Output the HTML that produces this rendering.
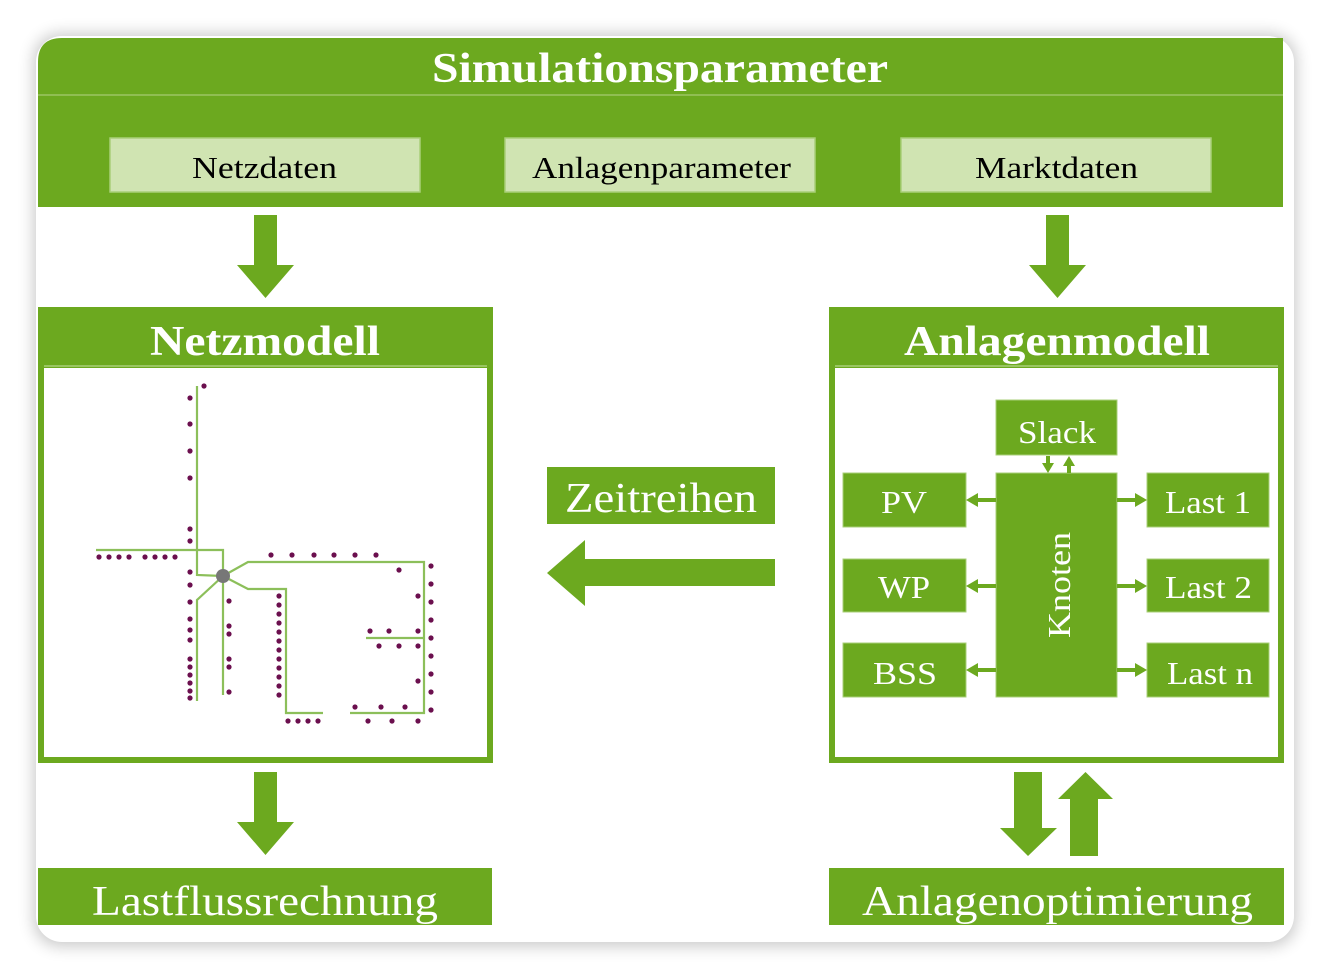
<!DOCTYPE html>
<html><head><meta charset="utf-8"><style>
html,body{margin:0;padding:0;background:#fff;}
svg{display:block;}
</style></head><body>
<svg width="1330" height="978" viewBox="0 0 1330 978" xmlns="http://www.w3.org/2000/svg" font-family="'Liberation Serif', serif">
<defs>
<filter id="sh" x="-5%" y="-5%" width="110%" height="110%"><feGaussianBlur stdDeviation="8"/></filter>
</defs>
<rect x="34" y="34" width="1262" height="912" rx="26" fill="#000" opacity="0.22" filter="url(#sh)"/>
<rect x="36" y="36" width="1258" height="906" rx="26" fill="#fff"/>
<path d="M38 207 V62 Q38 38 62 38 H1283 V207 Z" fill="#6ca91f"/>
<line x1="38" y1="95" x2="1283" y2="95" stroke="#9cc663" stroke-width="1.5"/>
<text x="432" y="82" textLength="456" lengthAdjust="spacingAndGlyphs" font-size="42" font-weight="bold" fill="#fff">Simulationsparameter</text>
<g fill="#d0e4b2" stroke="#a9cf79" stroke-width="1.5">
<rect x="110" y="138" width="310" height="54"/>
<rect x="505" y="138" width="310" height="54"/>
<rect x="901" y="138" width="310" height="54"/>
</g>
<g font-size="31" fill="#000" lengthAdjust="spacingAndGlyphs">
<text x="192" y="178" textLength="145" lengthAdjust="spacingAndGlyphs">Netzdaten</text>
<text x="532" y="178" textLength="259" lengthAdjust="spacingAndGlyphs">Anlagenparameter</text>
<text x="975" y="178" textLength="163" lengthAdjust="spacingAndGlyphs">Marktdaten</text>
</g>
<g fill="#6ca91f">
<path d="M254 215 H277 V265 H294 L265.5 298 L237 265 H254 Z"/>
<path d="M1046 215 H1069 V265 H1086 L1057.5 298 L1029 265 H1046 Z"/>
<path d="M254 772 H277 V822 H294 L265.5 855 L237 822 H254 Z"/>
<path d="M1014 772 H1042 V828 H1057 L1028 856 L1000 828 H1014 Z"/>
<path d="M1070 856 H1098 V799 H1113 L1085.5 772 L1058 799 H1070 Z"/>
<path d="M775 559 V586 H585 V606 L547 573 L585 540 V559 Z"/>
</g>
<rect x="38" y="307" width="455" height="456" fill="#6ca91f"/>
<rect x="44" y="368" width="443" height="389" fill="#fff"/>
<line x1="44" y1="366" x2="487" y2="366" stroke="#a9cf79" stroke-width="1.5"/>
<text x="150" y="355" textLength="230" lengthAdjust="spacingAndGlyphs" font-size="42" font-weight="bold" fill="#fff">Netzmodell</text>
<rect x="829" y="307" width="455" height="456" fill="#6ca91f"/>
<rect x="835" y="368" width="443" height="389" fill="#fff"/>
<line x1="835" y1="366" x2="1278" y2="366" stroke="#a9cf79" stroke-width="1.5"/>
<text x="904" y="355" textLength="306" lengthAdjust="spacingAndGlyphs" font-size="42" font-weight="bold" fill="#fff">Anlagenmodell</text>
<rect x="38" y="868" width="454" height="57" fill="#6ca91f"/>
<rect x="829" y="868" width="455" height="57" fill="#6ca91f"/>
<text x="92" y="915" textLength="346" lengthAdjust="spacingAndGlyphs" font-size="42" fill="#fff">Lastflussrechnung</text>
<text x="862" y="915" textLength="391" lengthAdjust="spacingAndGlyphs" font-size="42" fill="#fff">Anlagenoptimierung</text>
<rect x="547" y="467" width="228" height="57" fill="#6ca91f"/>
<text x="565" y="512" textLength="192" lengthAdjust="spacingAndGlyphs" font-size="42" fill="#fff">Zeitreihen</text>
<g fill="#6ca91f" stroke="#a9cf79" stroke-width="1">
<rect x="996" y="400" width="121" height="55"/>
<rect x="996" y="473" width="121" height="224"/>
<rect x="843" y="473" width="123" height="54"/>
<rect x="843" y="559" width="123" height="53"/>
<rect x="843" y="643" width="123" height="54"/>
<rect x="1147" y="473" width="122" height="54"/>
<rect x="1147" y="559" width="122" height="53"/>
<rect x="1147" y="643" width="122" height="54"/>
</g>
<g font-size="32" fill="#fff">
<text x="1018" y="443" textLength="78" lengthAdjust="spacingAndGlyphs">Slack</text>
<text x="881" y="513" textLength="46" lengthAdjust="spacingAndGlyphs">PV</text>
<text x="878" y="598" textLength="52" lengthAdjust="spacingAndGlyphs">WP</text>
<text x="873" y="684" textLength="64" lengthAdjust="spacingAndGlyphs">BSS</text>
<text x="1165" y="513" textLength="86" lengthAdjust="spacingAndGlyphs">Last 1</text>
<text x="1165" y="598" textLength="87" lengthAdjust="spacingAndGlyphs">Last 2</text>
<text x="1167" y="684" textLength="86" lengthAdjust="spacingAndGlyphs">Last n</text>
<text transform="translate(1070,638) rotate(-90)" textLength="106" lengthAdjust="spacingAndGlyphs">Knoten</text>
</g>
<g stroke="#6ca91f" stroke-width="4" fill="#6ca91f">
<line x1="996" y1="500" x2="975" y2="500"/><path d="M966 500 L978 493 L978 507 Z" stroke="none"/>
<line x1="996" y1="586" x2="975" y2="586"/><path d="M966 586 L978 579 L978 593 Z" stroke="none"/>
<line x1="996" y1="670" x2="975" y2="670"/><path d="M966 670 L978 663 L978 677 Z" stroke="none"/>
<line x1="1117" y1="500" x2="1138" y2="500"/><path d="M1147 500 L1135 493 L1135 507 Z" stroke="none"/>
<line x1="1117" y1="586" x2="1138" y2="586"/><path d="M1147 586 L1135 579 L1135 593 Z" stroke="none"/>
<line x1="1117" y1="670" x2="1138" y2="670"/><path d="M1147 670 L1135 663 L1135 677 Z" stroke="none"/>
<line x1="1048" y1="456" x2="1048" y2="464"/><path d="M1048 473 L1042 463 L1054 463 Z" stroke="none"/>
<line x1="1069" y1="473" x2="1069" y2="465"/><path d="M1069 456 L1063 466 L1075 466 Z" stroke="none"/>
</g>
<g stroke="#8cbf5a" stroke-width="2.2" fill="none">
<polyline points="197,386 197,575 223,576"/>
<polyline points="96,550 223,550 223,576"/>
<line x1="223" y1="576" x2="223" y2="695"/>
<polyline points="223,576 197,600 197,701"/>
<polyline points="223,576 248,562 424,562 424,713 350,713"/>
<polyline points="223,576 248,589 286,589 286,713 323,713"/>
<line x1="366" y1="638" x2="424" y2="638"/>
</g>
<circle cx="223" cy="576" r="7" fill="#777"/>
<g fill="#6b0f4e">
<circle cx="204" cy="386" r="2.6"/>
<circle cx="190" cy="398" r="2.6"/><circle cx="190" cy="424" r="2.6"/><circle cx="190" cy="451" r="2.6"/><circle cx="190" cy="478" r="2.6"/>
<circle cx="190" cy="529" r="2.6"/><circle cx="190" cy="541" r="2.6"/>
<circle cx="190" cy="572" r="2.6"/><circle cx="190" cy="585" r="2.6"/><circle cx="190" cy="602" r="2.6"/>
<circle cx="190" cy="619" r="2.6"/><circle cx="190" cy="630" r="2.6"/><circle cx="190" cy="640" r="2.6"/>
<circle cx="190" cy="659" r="2.6"/><circle cx="190" cy="667" r="2.6"/><circle cx="190" cy="675" r="2.6"/><circle cx="190" cy="683" r="2.6"/><circle cx="190" cy="691" r="2.6"/><circle cx="190" cy="698" r="2.6"/>
<circle cx="99" cy="557" r="2.6"/><circle cx="109" cy="557" r="2.6"/><circle cx="119" cy="557" r="2.6"/><circle cx="129" cy="557" r="2.6"/>
<circle cx="145" cy="557" r="2.6"/><circle cx="155" cy="557" r="2.6"/><circle cx="165" cy="557" r="2.6"/><circle cx="175" cy="557" r="2.6"/>
<circle cx="229" cy="601" r="2.6"/><circle cx="229" cy="626" r="2.6"/><circle cx="229" cy="634" r="2.6"/><circle cx="229" cy="659" r="2.6"/><circle cx="229" cy="667" r="2.6"/><circle cx="229" cy="692" r="2.6"/>
<circle cx="279" cy="596" r="2.6"/><circle cx="279" cy="605" r="2.6"/><circle cx="279" cy="614" r="2.6"/><circle cx="279" cy="623" r="2.6"/><circle cx="279" cy="632" r="2.6"/><circle cx="279" cy="641" r="2.6"/><circle cx="279" cy="650" r="2.6"/><circle cx="279" cy="659" r="2.6"/><circle cx="279" cy="668" r="2.6"/><circle cx="279" cy="677" r="2.6"/><circle cx="279" cy="686" r="2.6"/><circle cx="279" cy="695" r="2.6"/>
<circle cx="271" cy="555" r="2.6"/><circle cx="292" cy="555" r="2.6"/><circle cx="314" cy="555" r="2.6"/><circle cx="334" cy="555" r="2.6"/><circle cx="355" cy="555" r="2.6"/><circle cx="376" cy="555" r="2.6"/>
<circle cx="431" cy="566" r="2.6"/><circle cx="431" cy="584" r="2.6"/><circle cx="431" cy="602" r="2.6"/><circle cx="431" cy="620" r="2.6"/><circle cx="431" cy="638" r="2.6"/><circle cx="431" cy="656" r="2.6"/><circle cx="431" cy="674" r="2.6"/><circle cx="431" cy="692" r="2.6"/><circle cx="431" cy="710" r="2.6"/>
<circle cx="399" cy="570" r="2.6"/><circle cx="418" cy="596" r="2.6"/><circle cx="418" cy="681" r="2.6"/>
<circle cx="370" cy="631" r="2.6"/><circle cx="389" cy="631" r="2.6"/><circle cx="418" cy="631" r="2.6"/>
<circle cx="379" cy="646" r="2.6"/><circle cx="399" cy="646" r="2.6"/><circle cx="418" cy="646" r="2.6"/>
<circle cx="288" cy="721" r="2.6"/><circle cx="298" cy="721" r="2.6"/><circle cx="308" cy="721" r="2.6"/><circle cx="318" cy="721" r="2.6"/>
<circle cx="355" cy="707" r="2.6"/><circle cx="381" cy="707" r="2.6"/><circle cx="405" cy="707" r="2.6"/>
<circle cx="368" cy="721" r="2.6"/><circle cx="392" cy="721" r="2.6"/><circle cx="418" cy="721" r="2.6"/>
</g>
</svg>
</body></html>
